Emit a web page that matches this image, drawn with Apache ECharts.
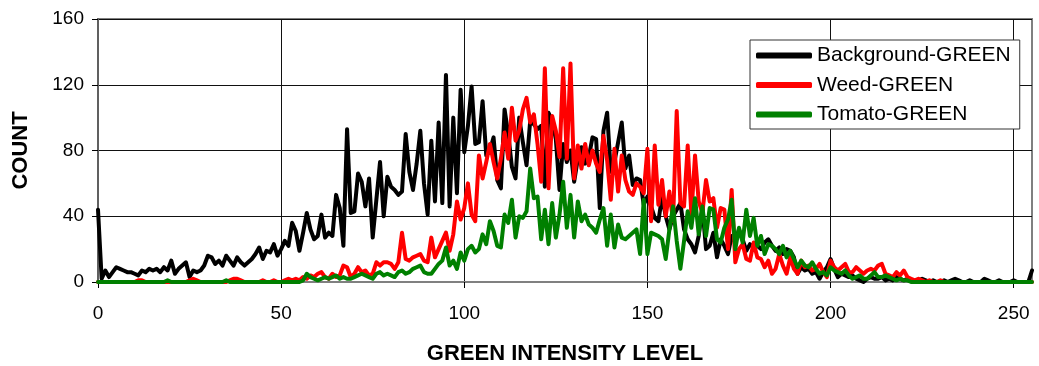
<!DOCTYPE html>
<html>
<head>
<meta charset="utf-8">
<script src="https://cdn.jsdelivr.net/npm/echarts@6/dist/echarts.min.js"></script>
<style>
html,body{margin:0;padding:0;background:#fff;}
#chart{width:1039px;height:366px;}
</style>
</head>
<body>
<div id="chart"></div>
<script>
// Green intensity level histograms (index = intensity level 0..255)
const backgroundGreen = [
44,2,7,3,6,9,8,7,6,6, 5,4,7,6,8,7,8,6,9,7,
13,5,8,10,12,3,7,6,7,10, 16,15,11,13,10,16,13,10,15,12,
10,12,14,17,21,14,19,18,23,16, 20,25,22,36,31,19,30,42,32,26,
28,41,27,30,28,53,45,22,93,42, 43,66,61,46,63,27,50,73,40,64,
58,56,53,55,90,67,56,72,92,60, 41,86,49,97,48,126,46,100,54,117,
79,95,119,84,85,110,77,80,88,62, 57,105,90,70,63,100,85,71,98,96,
93,95,58,103,98,87,56,84,73,80, 61,75,82,72,76,88,87,45,92,103,
67,73,85,97,69,77,59,63,62,47, 52,46,39,37,52,40,32,40,44,48,
32,26,23,18,28,46,20,22,30,15, 26,22,17,28,24,32,26,19,23,21,
22,20,24,26,22,19,21,17,20,19, 15,5,9,7,8,5,6,2,6,9,
14,8,3,5,4,3,4,2,1,0, 2,3,2,2,3,1,2,1,3,2,
1,2,1,0,1,2,1,0,1,0, 0,1,0,1,2,1,0,0,1,0,
0,0,2,1,0,0,1,0,0,0, 1,0,0,0,0,7
];
const weedGreen = [
0,0,0,0,0,0,0,0,0,0, 0,1,1,0,0,0,0,0,0,0,
0,0,0,0,0,1,2,1,0,0, 0,0,0,0,0,0,1,2,2,1,
0,0,0,0,0,1,0,0,1,0, 0,1,2,1,2,1,3,2,4,3,
5,6,3,2,5,3,4,10,9,3, 5,9,6,7,4,5,12,10,12,12,
11,8,12,30,14,13,15,16,17,13, 12,27,15,20,25,30,19,29,49,38,
45,60,41,37,77,63,73,84,73,63, 75,91,75,106,86,92,105,112,97,102,
84,61,130,57,101,92,76,130,75,133, 63,83,69,84,71,80,72,67,89,74,
50,81,55,77,62,55,53,60,58,54, 81,37,83,47,62,40,55,37,104,48,
46,83,41,77,49,42,62,49,51,33, 45,44,20,56,12,20,23,14,13,24,
15,14,9,13,5,8,17,10,5,15, 8,5,13,9,10,7,8,11,6,3,
13,9,7,9,11,6,6,9,7,5, 7,8,7,10,11,5,4,3,6,4,
7,3,2,1,2,1,0,1,0,0, 1,0,0,0,0,0,0,0,0,0,
0,0,0,0,0,0,0,0,0,0, 0,0,0,0,0,0
];
const tomatoGreen = [
0,0,0,0,0,0,0,0,0,0, 0,0,0,0,0,0,0,0,0,1,
0,0,0,0,0,0,0,0,0,0, 0,0,0,0,0,1,0,0,0,0,
0,0,0,0,0,0,0,0,0,0, 0,0,0,0,0,0,1,5,3,2,
1,2,3,2,3,4,2,3,2,2, 3,4,5,4,3,2,5,6,4,5,
4,3,6,7,5,6,8,9,10,6, 5,5,8,11,13,21,10,13,8,18,
13,20,22,18,20,29,23,37,31,22, 21,41,36,50,27,40,39,43,69,51,
52,26,44,23,48,27,41,61,33,53, 27,49,37,41,35,33,30,38,45,22,
41,21,35,27,26,28,30,32,17,50, 17,30,29,28,26,14,32,46,25,8,
25,43,33,51,29,46,28,45,44,26, 24,33,38,50,20,33,24,44,28,39,
22,28,17,23,22,20,17,22,15,19, 14,9,13,10,9,12,8,5,6,4,
9,7,6,5,7,4,2,3,4,2, 2,4,6,3,3,4,3,2,1,2,
1,1,0,0,0,0,0,0,0,0, 0,0,0,0,0,0,0,0,0,0,
0,0,0,0,0,0,0,0,0,0, 0,0,0,0,0,0
];
const seriesNames = ['Background-GREEN', 'Weed-GREEN', 'Tomato-GREEN'];
const seriesColors = ['#000000', '#ff0000', '#008000'];
const xTickValues = [0, 50, 100, 150, 200, 250];

function toPairs(arr) { return arr.map((v, i) => [i, v]); }

const chart = echarts.init(document.getElementById('chart'), null, {renderer: 'canvas'});
const font = 'Arial, "Liberation Sans", sans-serif';
const mkSeries = (name, arr, color) => ({
  name: name, type: 'line', data: toPairs(arr), showSymbol: false, symbol: 'none',
  lineStyle: {color: color, width: 4, join: 'round', cap: 'round'},
  itemStyle: {color: color}, animation: false, z: 3
});
chart.setOption({
  animation: false,
  backgroundColor: '#ffffff',
  grid: {left: 98, right: 7, top: 19, bottom: 84, show: true, borderColor: '#808080', borderWidth: 2,
         containLabel: false, outerBoundsMode: 'none'},
  legend: {
    orient: 'vertical', left: 750, top: 40,
    backgroundColor: '#ffffff', borderColor: '#333333', borderWidth: 1,
    padding: [4, 9, 3, 6], itemGap: 6.5, itemWidth: 56, itemHeight: 6,
    icon: 'roundRect',
    textStyle: {fontFamily: font, fontSize: 21, color: '#000', lineHeight: 23, padding: [0, 0, 0, 0]},
    data: seriesNames
  },
  xAxis: {
    type: 'value', min: 0, max: 255, interval: 50,
    name: 'GREEN INTENSITY LEVEL', nameLocation: 'middle', nameGap: 61,
    nameTextStyle: {fontFamily: font, fontSize: 22, fontWeight: 'bold', color: '#000'},
    axisLine: {show: true, lineStyle: {color: '#808080', width: 2}},
    axisTick: {show: true, length: 6, customValues: xTickValues, lineStyle: {color: '#000', width: 1}},
    axisLabel: {fontFamily: font, fontSize: 19, color: '#000', margin: 22, customValues: xTickValues},
    splitLine: {show: true, lineStyle: {color: '#111', width: 1}}
  },
  yAxis: {
    type: 'value', min: 0, max: 160, interval: 40,
    name: 'COUNT', nameLocation: 'middle', nameGap: 66, nameRotate: 90,
    nameTextStyle: {fontFamily: font, fontSize: 22, fontWeight: 'bold', color: '#000'},
    axisLine: {show: true, lineStyle: {color: '#606060', width: 2}},
    axisTick: {show: true, length: 6, lineStyle: {color: '#000', width: 1}},
    axisLabel: {fontFamily: font, fontSize: 19, color: '#000', margin: 14},
    splitLine: {show: true, lineStyle: {color: '#111', width: 1}}
  },
  series: [
    mkSeries(seriesNames[0], backgroundGreen, seriesColors[0]),
    mkSeries(seriesNames[1], weedGreen, seriesColors[1]),
    mkSeries(seriesNames[2], tomatoGreen, seriesColors[2])
  ]
});
</script>
</body>
</html>
